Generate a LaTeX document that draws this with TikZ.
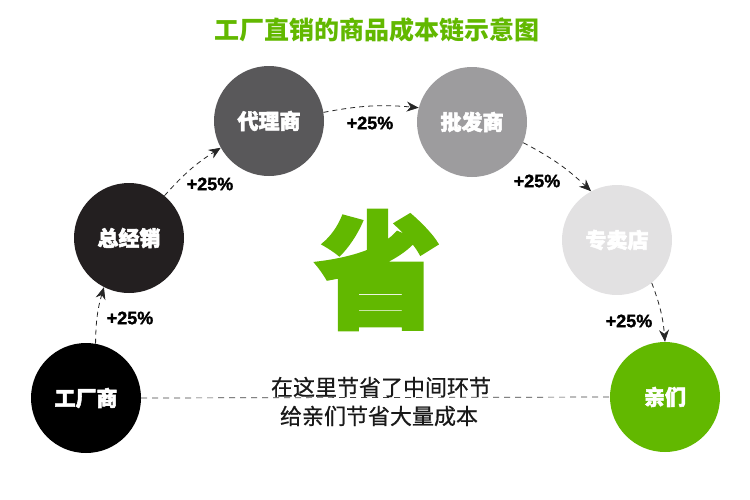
\documentclass[tikz,border=0pt]{standalone}
\usepackage{fontspec}
\setmainfont{Liberation Sans}
\newfontfamily\cjk{Noto Sans CJK SC}
\newfontfamily\cjkmid[FakeBold=0.6]{Noto Sans CJK SC}
\newfontfamily\cjkheavy[BoldFeatures={FakeBold=2.5}]{Noto Sans CJK SC}
\newfontfamily\pctfont[BoldFeatures={FakeBold=1.5}]{Liberation Sans}
\usetikzlibrary{arrows.meta,positioning}

\definecolor{leaf}{HTML}{62B800}
\definecolor{st1}{HTML}{231F20}
\definecolor{st2}{HTML}{59585A}
\definecolor{st3}{HTML}{9D9C9E}
\definecolor{st4}{HTML}{E2E1E2}

\tikzset{
  stage/.style={circle, minimum size=110pt, inner sep=0pt, text=white,
    font=\cjkheavy\bfseries\fontsize{21}{21}\selectfont},
  flow/.style={dash pattern=on 5pt off 4pt, line width=0.8pt, black!85,
    -{Stealth[length=12pt,width=10pt]}},
  pct/.style={font=\pctfont\bfseries\fontsize{18}{18}\selectfont},
}

\begin{document}
\begin{tikzpicture}[x=1pt,y=1pt]
    \useasboundingbox (0,0) rectangle (750,-499);
    % title
    \node[font=\cjk\bfseries\fontsize{25}{25}\selectfont, text=leaf] (title)
      at (377,-30) {工厂直销的商品成本链示意图};
    % the six stages of the chain
    \node[stage, fill=black] (fac) at (86,-398) {工厂商};
    \node[stage, fill=st1]   (zjx) at (129,-238) {总经销};
    \node[stage, fill=st2]   (dls) at (269,-121) {代理商};
    \node[stage, fill=st3]   (pfs) at (472,-122) {批发商};
    \node[stage, fill=st4]   (zmd) at (617,-240) {专卖店};
    \node[stage, fill=leaf]  (qm)  at (665,-397) {亲们};
    % price steps along the arch
    \foreach \a/\b/\oa/\ia/\lx/\ly in {fac/zjx/80/243/130/318,
        zjx/dls/50/209/210/184, dls/pfs/9/165/370/123,
        pfs/zmd/-22/118/537/181, zmd/qm/-51/90/629/321} {
      \draw[flow] (\a.\oa) to[bend left=8] (\b.\ia);
      \node[pct] (p\a) at (\lx,-\ly) {+25\%};
    }
    % the short way
    \draw[dash pattern=on 6pt off 5pt, line width=0.7pt, black!75]
      (fac.east) -- (qm.west);
    \node[font=\cjkmid\fontsize{22}{22}\selectfont, text=black!90] (save1)
      at (381,-387) {在这里节省了中间环节};
    \node[font=\cjkmid\fontsize{22}{22}\selectfont, text=black!90] (save2)
      at (379,-416) {给亲们节省大量成本};
    % big sign
    \node[font=\cjkheavy\bfseries\fontsize{126}{126}\selectfont, text=leaf] (big)
      at (378,-270) {省};
  \end{tikzpicture}
\end{document}
